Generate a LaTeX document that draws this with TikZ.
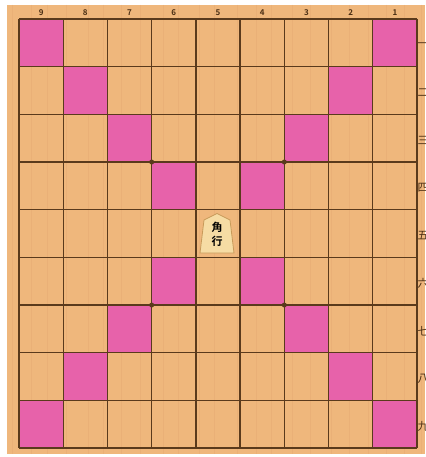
\documentclass[tikz,border=0pt]{standalone}
\usepackage{fontspec}
\newfontfamily\jp{Noto Sans CJK JP}
\newfontfamily\jpb{Noto Sans CJK JP Bold}
\begin{document}
\begin{tikzpicture}[x=1pt,y=-1pt,
  gridline/.style={draw=gridbrown,line width=1.3pt},
  pinkcell/.style={fill=cellpink},
  collabel/.style={font=\jpb\fontsize{8}{8}\selectfont,text=labelcol,inner sep=0pt},
  rowlabel/.style={font=\jp\fontsize{11}{11}\selectfont,text=labelcol,inner sep=0pt,anchor=west},
  hoshi/.style={fill=gridbrown,circle,inner sep=0pt,minimum size=5pt},
  piece/.style={fill=piececol,draw=pieceedge,line width=0.8pt,line join=round}]
\definecolor{wood}{HTML}{EFB77C}
\definecolor{woodgrain}{HTML}{EAB077}
\definecolor{gridbrown}{HTML}{5A3A1C}
\definecolor{labelcol}{HTML}{4A2E14}
\definecolor{cellpink}{HTML}{E762AA}
\definecolor{piececol}{HTML}{F6DCA4}
\definecolor{pieceedge}{HTML}{C89A5A}
\useasboundingbox (0,0) rectangle (425,457);
\clip (0,0) rectangle (425,457);
\fill[white] (0,0) rectangle (425,457);
\fill[wood] (7,5) rectangle (425,454);
% faint wood grain
\foreach \gx in {12,31,47,66,88,103,121,140,163,178,199,214,237,256,271,292,310,331,349,368,386,404,421}
  \draw[woodgrain,line width=0.6pt] (\gx,5) -- (\gx,454);
% geometry
\def\L{19}\def\T{19}\def\W{44.22}\def\H{47.67}
% pink cells
\foreach \c/\r in {0/0,8/0,1/1,7/1,2/2,6/2,3/3,5/3,3/5,5/5,2/6,6/6,1/7,7/7,0/8,8/8}
  \fill[pinkcell] ({\L+\c*\W},{\T+\r*\H}) rectangle ({\L+(\c+1)*\W},{\T+(\r+1)*\H});
% grid
\foreach \i in {0,...,9} {
  \draw[gridline] ({\L+\i*\W},\T) -- ({\L+\i*\W},{\T+9*\H});
  \draw[gridline] (\L,{\T+\i*\H}) -- ({\L+9*\W},{\T+\i*\H});
}
% hoshi
\foreach \c/\r [count=\k] in {3/3,6/3,3/6,6/6}
  \node[hoshi] (h\k) at ({\L+\c*\W},{\T+\r*\H}) {};
% column labels
\foreach \n [count=\k from 0] in {9,8,7,6,5,4,3,2,1}
  \node[collabel] (c\n) at ({\L+(\k+0.5)*\W},12.5) {\n};
% row labels
\foreach \t [count=\k from 0] in {一,二,三,四,五,六,七,八,九}
  \node[rowlabel] (r\k) at (417.5,{\T+(\k+0.5)*\H+2}) {\t};
% bishop piece
\coordinate (pc) at ({\L+4.5*\W},{\T+4.5*\H});
\fill[piece] (217,213.5) -- (230,220) -- (234,253) -- (200,253) -- (204,220) -- cycle;
\node[font=\jpb\fontsize{11}{11}\selectfont,inner sep=0pt] (kaku) at (217,227) {角};
\node[font=\jpb\fontsize{11}{11}\selectfont,inner sep=0pt] (gyo) at (217,241.5) {行};
\end{tikzpicture}
\end{document}
